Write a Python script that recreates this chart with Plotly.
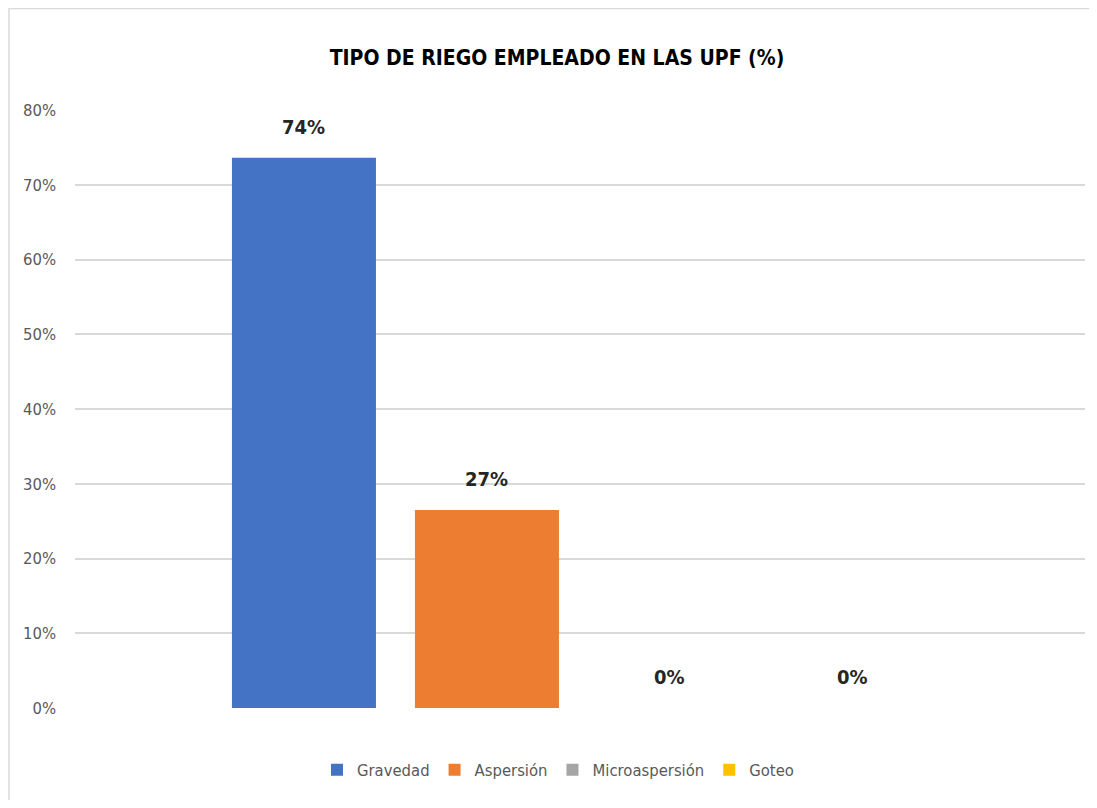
import plotly.graph_objects as go

categories = ["Gravedad", "Aspersión", "Microaspersión", "Goteo"]
values = [73.6, 26.5, 0.0, 0.0]
labels = ["74%", "27%", "0%", "0%"]
colors = ["#4472C4", "#ED7D31", "#A5A5A5", "#FFC000"]
y_ticks = [0, 10, 20, 30, 40, 50, 60, 70, 80]
y_tick_labels = [f"{t}%" for t in y_ticks]

FONT = "DejaVu Sans Condensed, sans-serif"

# figure sized so the page (with its 8px body margin) fits the window without scrollbars
W, H = 1081, 792
ML, MR, MT, MB = 67, 4, 102, 92
PW, PH = W - ML - MR, H - MT - MB

fig = go.Figure()
for cat, val, col in zip(categories, values, colors):
    fig.add_trace(go.Bar(
        x=[cat], y=[val], name=cat, marker=dict(color=col, line=dict(width=0)),
        width=0.787, hoverinfo="skip",
    ))

for cat, val, lab in zip(categories, values, labels):
    fig.add_annotation(
        x=cat, y=val, text=f"<b>{lab}</b>", showarrow=False,
        yanchor="middle", yshift=31,
        font=dict(family=FONT, size=20, color="#262626"),
    )

fig.update_layout(
    width=W, height=H,
    barmode="overlay",
    paper_bgcolor="white", plot_bgcolor="white",
    margin=dict(l=ML, r=MR, t=MT, b=MB),
    title=dict(
        text="<b>TIPO DE RIEGO EMPLEADO EN LAS UPF (%)</b>",
        x=(557 - 8 - ML) / PW, xref="paper", xanchor="center",
        y=1 - 50 / H, yanchor="middle",
        font=dict(family=FONT, size=21, color="#000000"),
    ),
    xaxis=dict(
        type="category", categoryorder="array", categoryarray=categories,
        range=[-1.251, 4.268], showticklabels=False, showgrid=False,
        zeroline=False, showline=False, ticks="",
    ),
    yaxis=dict(
        range=[0, 80], tickvals=y_ticks, ticktext=y_tick_labels,
        showgrid=True, gridcolor="#D9D9D9", gridwidth=1.5,
        zeroline=False, showline=False, ticks="",
        tickfont=dict(family=FONT, size=16.5, color="#595959"),
        ticklabelstandoff=18,
    ),
    legend=dict(
        orientation="h", x=(558 - 8 - ML) / PW, xanchor="center",
        y=-62 / PH, yanchor="middle",
        font=dict(family=FONT, size=16.5, color="#595959"),
        itemwidth=30, traceorder="normal",
    ),
    showlegend=True,
)

# chart border (right and bottom edges lie outside the visible window, as in the reference)
fig.add_shape(
    type="rect", xref="paper", yref="paper",
    x0=-(ML - 1) / PW, x1=(W - ML + 20) / PW,
    y0=-(MB + 20) / PH, y1=1 + (MT - 0.5) / PH,
    line=dict(color="#D9D9D9", width=1.5), fillcolor="rgba(0,0,0,0)",
    layer="below",
)

fig.write_html("out.html")
